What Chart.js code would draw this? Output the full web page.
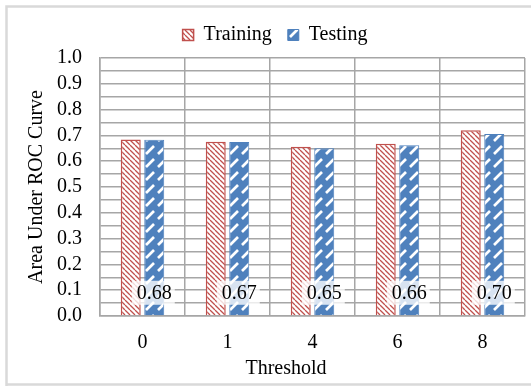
<!DOCTYPE html>
<html>
<head>
<meta charset="utf-8">
<script src="https://cdn.jsdelivr.net/npm/chart.js@4.4.1/dist/chart.umd.min.js"></script>
<style>
html, body { margin: 0; padding: 0; background: #fff; }
</style>
</head>
<body>
<canvas id="auc" width="531" height="386"></canvas>
<script>
var categories = ['0', '1', '4', '6', '8'];
var training = [0.684, 0.675, 0.656, 0.668, 0.720];
var testing = [0.683, 0.674, 0.650, 0.662, 0.705];
var testingLabels = ['0.68', '0.67', '0.65', '0.66', '0.70'];
var yTicks = [0, 0.05, 0.1, 0.15, 0.2, 0.25, 0.3, 0.35, 0.4, 0.45, 0.5,
              0.55, 0.6, 0.65, 0.7, 0.75, 0.8, 0.85, 0.9, 0.95, 1.0];

var serif = 'Liberation Serif';
var gridColor = '#a6a6a6';

function stripePattern() {
    var c = document.createElement('canvas');
    c.width = 5; c.height = 5;
    var g = c.getContext('2d');
    g.fillStyle = '#fff';
    g.fillRect(0, 0, 5, 5);
    g.strokeStyle = '#c0504d';
    g.lineWidth = 1.3;
    g.beginPath();
    for (var k = -5; k <= 5; k += 5) {
        g.moveTo(k, 0);
        g.lineTo(k + 5, 5);
    }
    g.stroke();
    return g.createPattern(c, 'repeat');
}

function dashPattern() {
    var c = document.createElement('canvas');
    c.width = 12; c.height = 13;
    var g = c.getContext('2d');
    g.fillStyle = '#4f81bd';
    g.fillRect(0, 0, 12, 13);
    g.strokeStyle = '#fff';
    g.lineWidth = 2.6;
    g.beginPath();
    g.moveTo(2, 11);
    g.lineTo(10, 3);
    g.stroke();
    return g.createPattern(c, 'repeat');
}

var ctx = document.getElementById('auc').getContext('2d');

// light frame round the picture
var framePlugin = {
    id: 'frame',
    beforeUpdate: function (chart) {
        // a bit more room under the legend
        var lg = chart.legend;
        if (lg && !lg._patched) {
            var fit = lg.fit;
            lg.fit = function () { fit.call(this); this.height += 3; };
            lg._patched = true;
        }
    },
    beforeDraw: function (chart) {
        var c = chart.ctx;
        c.save();
        c.strokeStyle = '#d9d9d9';
        c.lineWidth = 2.5;
        c.beginPath();
        c.moveTo(6.5, 386);
        c.lineTo(6.5, 6.5);
        c.lineTo(531, 6.5);
        c.moveTo(6.5, 384.5);
        c.lineTo(531, 384.5);
        c.stroke();
        c.restore();
    }
};

// value boxes near the bottom of the testing bars + x axis title
var labelPlugin = {
    id: 'aucLabels',
    afterDatasetsDraw: function (chart) {
        var c = chart.ctx;
        var meta = chart.getDatasetMeta(1);
        var y = chart.scales.y.getPixelForValue(0.09);
        c.save();
        c.font = '20px "' + serif + '"';
        c.textAlign = 'center';
        c.textBaseline = 'middle';
        meta.data.forEach(function (bar, i) {
            var w = c.measureText(testingLabels[i]).width;
            c.fillStyle = 'rgba(255,255,255,0.78)';
            c.fillRect(bar.x - w / 2 - 5, y - 12, w + 8, 24);
            c.fillStyle = '#000';
            c.fillText(testingLabels[i], bar.x, y + 1);
        });
        c.restore();
    },
    afterDraw: function (chart) {
        var c = chart.ctx;
        c.save();
        c.font = '20px "' + serif + '"';
        c.fillStyle = '#000';
        c.textAlign = 'center';
        c.textBaseline = 'middle';
        c.fillText('Threshold', 286, 369);
        c.restore();
    }
};

var myChart = new Chart(ctx, {
    type: 'bar',
    data: {
        labels: categories,
        datasets: [{
            label: 'Training',
            data: training,
            backgroundColor: stripePattern(),
            borderColor: '#c0504d',
            borderWidth: 1.5
        }, {
            label: 'Testing',
            data: testing,
            backgroundColor: dashPattern(),
            borderColor: '#4f81bd',
            borderWidth: 1
        }]
    },
    options: {
        responsive: false,
        animation: false,
        devicePixelRatio: 1,
        categoryPercentage: 0.553,
        barPercentage: 0.85,
        layout: { padding: { left: 25, right: 6, top: 9, bottom: 0 } },
        plugins: {
            tooltip: { enabled: false },
            legend: {
                position: 'top',
                labels: {
                    font: { family: serif, size: 20 },
                    color: '#000',
                    boxWidth: 11,
                    boxHeight: 11,
                    padding: 16
                }
            }
        },
        scales: {
            x: {
                grid: { color: gridColor, lineWidth: 1.5, drawTicks: false, offset: true },
                border: { color: gridColor, width: 1.5 },
                ticks: { font: { family: serif, size: 20 }, color: '#000', padding: 15 },
                afterFit: function (s) { s.height = 70; }
            },
            y: {
                min: 0,
                max: 1,
                afterBuildTicks: function (s) {
                    s.ticks = yTicks.map(function (v) { return { value: v }; });
                },
                grid: { color: gridColor, lineWidth: 1.5, drawTicks: false },
                border: { color: gridColor, width: 1.5 },
                ticks: {
                    autoSkip: false,
                    padding: 18,
                    font: { family: serif, size: 20 },
                    color: '#000',
                    callback: function (v) {
                        return Math.round(v * 20) % 2 === 0 ? v.toFixed(1) : '';
                    }
                },
                title: {
                    display: true,
                    text: 'Area Under ROC Curve',
                    font: { family: serif, size: 20 },
                    color: '#000',
                    padding: { top: 0, bottom: 8 }
                },
                afterFit: function (s) { s.width = 75; }
            }
        }
    },
    plugins: [framePlugin, labelPlugin]
});
</script>
</body>
</html>
